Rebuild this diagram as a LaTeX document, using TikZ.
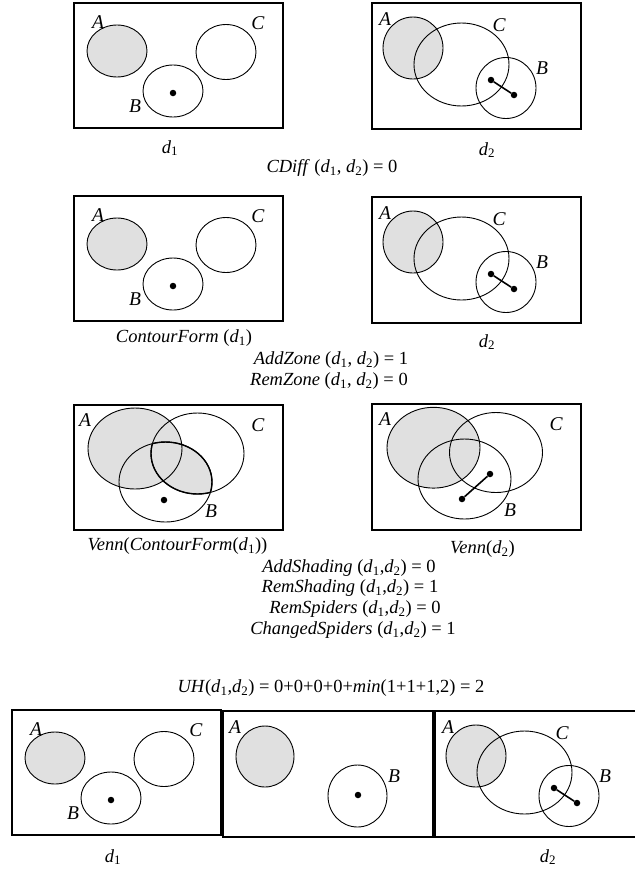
\documentclass[tikz,border=0pt]{standalone}
\usepackage{fontspec}
\setmainfont{Liberation Serif}
\definecolor{zoneshade}{RGB}{224,224,224}
\newcommand{\dsub}[1]{\textit{d}\textsubscript{#1}}
\tikzset{
  frame/.style={draw, line width=1.5pt},
  contour/.style={draw, line width=0.9pt},
  shaded/.style={fill=zoneshade},
  lbl/.style={font=\fontsize{19.5}{20}\selectfont\itshape, inner sep=0pt},
  caption/.style={font=\fontsize{18.5}{21}\selectfont, inner sep=0pt},
  spot/.style={circle, fill=black, inner sep=0pt, minimum size=6.5pt},
  leg/.style={line width=1.6pt},
  % diagram d1: A shaded, C, B holding one spider
  pics/dOne/.style={code={
    \node[frame, minimum width=209pt, minimum height=125pt, anchor=north west, inner sep=0pt] (-box) at (0,0) {};
    \fill[shaded] (44,49) ellipse [x radius=30pt, y radius=26pt];
    \draw[contour] (44,49) ellipse [x radius=30pt, y radius=26pt];
    \draw[contour] (153,50) ellipse [x radius=30pt, y radius=27.5pt];
    \draw[contour] (100,89) ellipse [x radius=30pt, y radius=26pt];
    \node[spot] (-dot) at (100,91) {};
    \node[lbl] (-A) at (25,20) {A};
    \node[lbl] (-C) at (185,21) {C};
    \node[lbl] (-B) at (62,104) {B};
  }},
  % diagram d2: A shaded overlapping C, B overlapping C, two-foot spider
  pics/dTwo/.style={code={
    \node[frame, minimum width=209pt, minimum height=126pt, anchor=north west, inner sep=0pt] (-box) at (0,0) {};
    \fill[shaded] (42,46) ellipse [x radius=30pt, y radius=31pt];
    \draw[contour] (42,46) ellipse [x radius=30pt, y radius=31pt];
    \draw[contour] (90.5,62.5) ellipse [x radius=47.5pt, y radius=41.5pt];
    \draw[contour] (135,86) ellipse [x radius=30pt, y radius=30.5pt];
    \node[spot] (-s1) at (120,78) {};
    \node[spot] (-s2) at (143,93) {};
    \draw[leg] (-s1) -- (-s2);
    \node[lbl] (-A) at (14,17) {A};
    \node[lbl] (-C) at (128,23) {C};
    \node[lbl] (-B) at (171,66) {B};
  }},
}
\begin{document}
\begin{tikzpicture}[x=1pt, y=-1pt]
\useasboundingbox (0,0) rectangle (635,871);

% ---- first comparison: d1 and d2
\pic (ra) at (73,2) {dOne};
\pic (rb) at (371,2) {dTwo};
\node[caption] (capa1) at (170,148) {\dsub{1}};
\node[caption] (capa2) at (487,150) {\dsub{2}};
\node[caption] (cdiff) at (332,168) {\textit{CDiff} (\dsub{1}, \dsub{2}) = 0};

% ---- contour form of d1 against d2
\pic (sa) at (73,195) {dOne};
\pic (sb) at (371,196) {dTwo};
\node[caption] (capb1) at (184,338) {\textit{ContourForm} (\dsub{1})};
\node[caption] (capb2) at (487,342) {\dsub{2}};
\node[caption] (addzone) at (331,360) {\textit{AddZone} (\dsub{1}, \dsub{2}) = 1};
\node[caption] (remzone) at (329,381) {\textit{RemZone} (\dsub{1}, \dsub{2}) = 0};

% ---- Venn forms
\node[frame, minimum width=209pt, minimum height=125pt, anchor=north west, inner sep=0pt] (vabox) at (73,404) {};
\fill[shaded] (135,448.5) ellipse [x radius=47pt, y radius=40.5pt];
\begin{scope}
  \clip (197.5,453.5) ellipse [x radius=46.5pt, y radius=40.5pt];
  \fill[shaded] (165.5,482) ellipse [x radius=46.5pt, y radius=40pt];
\end{scope}
\draw[contour] (135,448.5) ellipse [x radius=47pt, y radius=40.5pt];
\draw[contour] (197.5,453.5) ellipse [x radius=46.5pt, y radius=40.5pt];
\draw[contour] (165.5,482) ellipse [x radius=46.5pt, y radius=40pt];
\begin{scope}
  \clip (197.5,453.5) ellipse [x radius=46.5pt, y radius=40.5pt];
  \draw[line width=1.4pt] (165.5,482) ellipse [x radius=46.5pt, y radius=40pt];
\end{scope}
\begin{scope}
  \clip (165.5,482) ellipse [x radius=46.5pt, y radius=40pt];
  \draw[line width=1.4pt] (197.5,453.5) ellipse [x radius=46.5pt, y radius=40.5pt];
\end{scope}
\node[spot] (vadot) at (164,500) {};
\node[lbl] (vaA) at (85,420) {A};
\node[lbl] (vaC) at (258,425) {C};
\node[lbl] (vaB) at (211,511) {B};

\node[frame, minimum width=209pt, minimum height=126pt, anchor=north west, inner sep=0pt] (vbbox) at (371,403) {};
\fill[shaded] (433.5,447.7) ellipse [x radius=46.5pt, y radius=40.4pt];
\draw[contour] (433.5,447.7) ellipse [x radius=46.5pt, y radius=40.4pt];
\draw[contour] (496,452.5) ellipse [x radius=46.5pt, y radius=40pt];
\draw[contour] (464.5,479) ellipse [x radius=46.5pt, y radius=40pt];
\node[spot] (vbs1) at (462,499) {};
\node[spot] (vbs2) at (490,474) {};
\draw[leg] (vbs1) -- (vbs2);
\node[lbl] (vbA) at (385,419) {A};
\node[lbl] (vbC) at (556,424) {C};
\node[lbl] (vbB) at (510,510) {B};

\node[caption] (capc1) at (177.5,546) {\textit{Venn}(\textit{ContourForm}(\dsub{1}))};
\node[caption] (capc2) at (482.5,549) {\textit{Venn}(\dsub{2})};
\node[caption] (addsh) at (349,568) {\textit{AddShading} (\dsub{1},\dsub{2}) = 0};
\node[caption] (remsh) at (350,588.5) {\textit{RemShading} (\dsub{1},\dsub{2}) = 1};
\node[caption] (remsp) at (355,609) {\textit{RemSpiders} (\dsub{1},\dsub{2}) = 0};
\node[caption] (chsp) at (353,630) {\textit{ChangedSpiders} (\dsub{1},\dsub{2}) = 1};

\node[caption] (uh) at (331,688) {\textit{UH}(\dsub{1},\dsub{2}) = 0+0+0+0+\textit{min}(1+1+1,2) = 2};

% ---- the three-step sequence from d1 to d2
\pic (ta) at (11,709) {dOne};
\node[frame, minimum width=210pt, minimum height=126pt, anchor=north west, inner sep=0pt] (tbbox) at (222,710) {};
\fill[shaded] (265,756.5) ellipse [x radius=29pt, y radius=30.5pt];
\draw[contour] (265,756.5) ellipse [x radius=29pt, y radius=30.5pt];
\draw[contour] (357.5,796) ellipse [x radius=29.5pt, y radius=31pt];
\node[spot] (tbdot) at (358,795) {};
\node[lbl] (tbA) at (235,727) {A};
\node[lbl] (tbB) at (394,776) {B};
\pic (tc) at (434,710) {dTwo};
\node[caption] (capd1) at (113,857) {\dsub{1}};
\node[caption] (capd2) at (548,857) {\dsub{2}};
\end{tikzpicture}
\end{document}
